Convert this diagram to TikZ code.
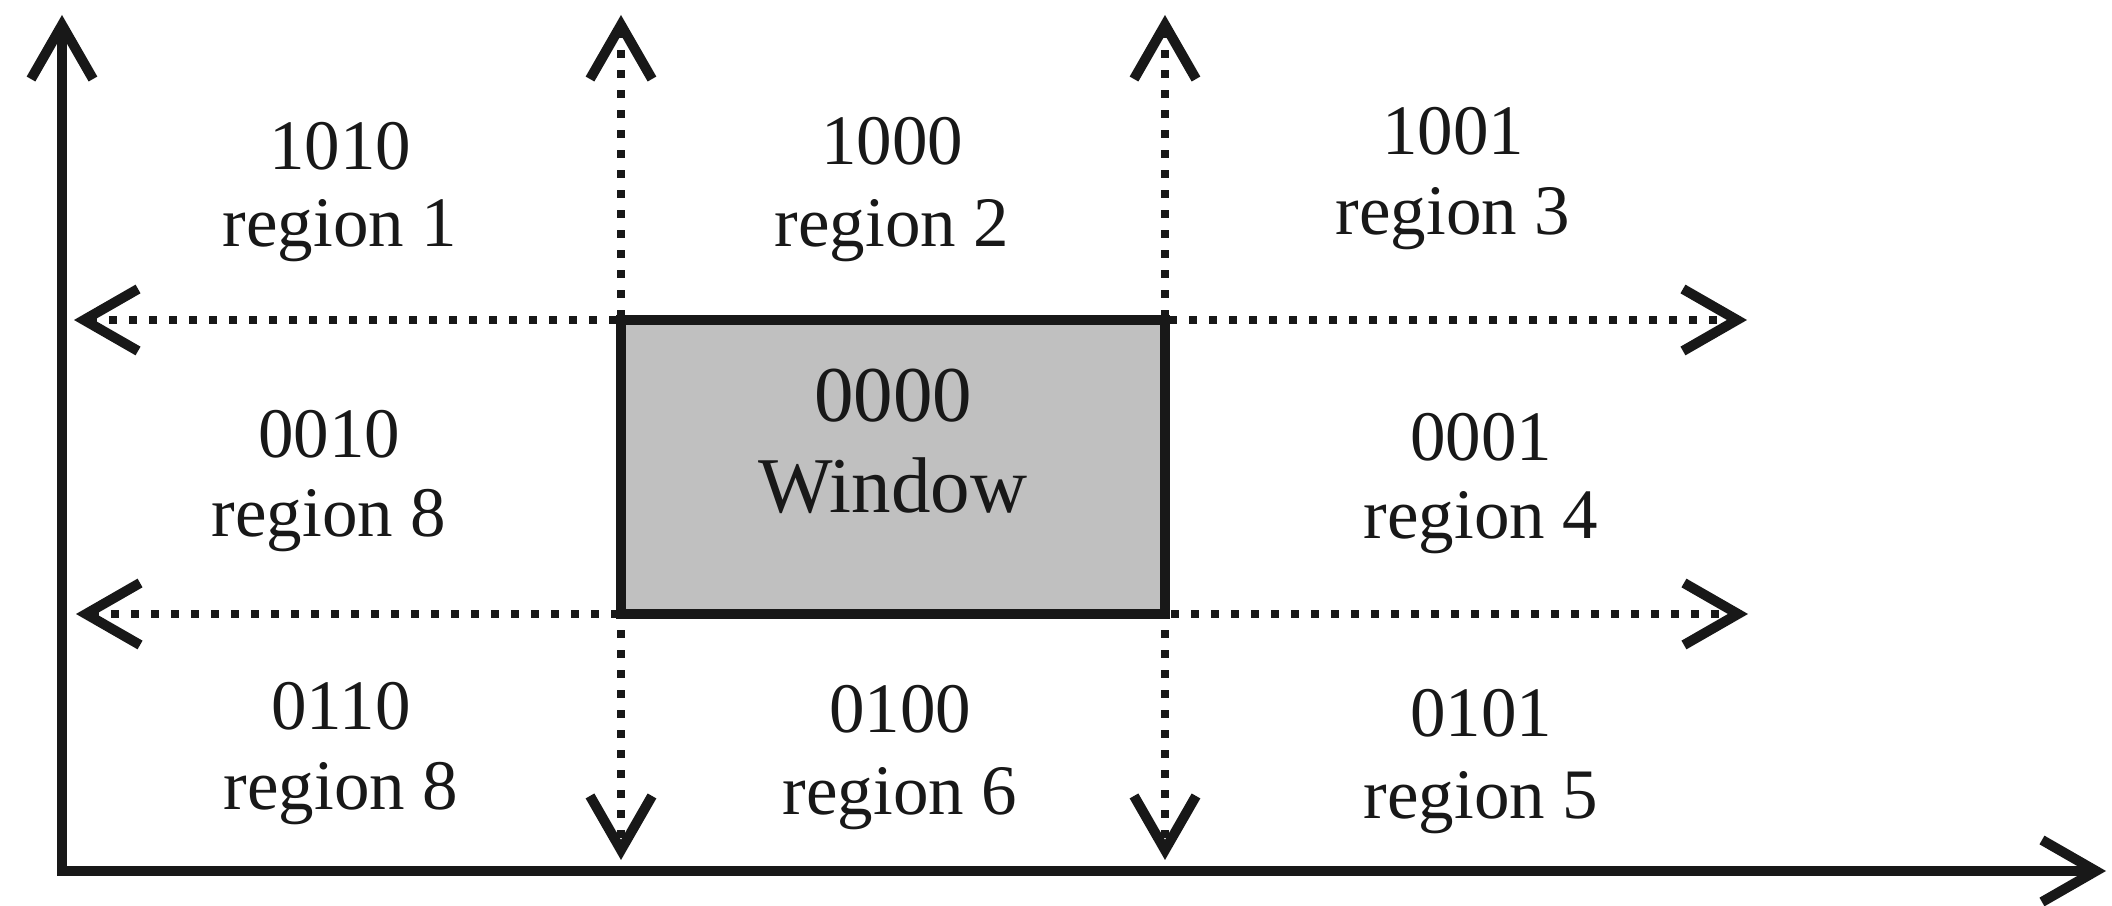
\documentclass[tikz,border=0pt]{standalone}
\usepackage{fontspec}
\setmainfont{Liberation Serif}
\usetikzlibrary{arrows.meta}
\definecolor{ink}{RGB}{24,24,24}
\definecolor{winfill}{RGB}{192,192,192}
\begin{document}
\begin{tikzpicture}[x=0.25pt, y=-0.25pt,
  >={Straight Barb[length=13.5pt,width=15.5pt,line width=2.5pt]},
  axisline/.style={line width=2.4pt, draw=ink},
  guide/.style={line width=2.1pt, dash pattern=on 2.1pt off 2.9pt, draw=ink},
  winbox/.style={line width=2.5pt, draw=ink, fill=winfill},
  code/.style={anchor=base, inner sep=0pt, text=ink, font=\fontsize{17.75pt}{20pt}\selectfont},
  wincode/.style={code, font=\fontsize{19.75pt}{22pt}\selectfont}]
\useasboundingbox (0,0) rectangle (2112,906);

% axes
\coordinate (O)    at (62,871);
\coordinate (ytop) at (62,15);
\coordinate (xend) at (2106,871);

% window corners
\coordinate (wtl) at (621,320);
\coordinate (wbr) at (1165,614);

% ends of the extended window edges
\coordinate (lt) at (621,15);   \coordinate (lb) at (621,860);
\coordinate (rt) at (1165,15);  \coordinate (rb) at (1165,860);
\coordinate (ul) at (74,320);   \coordinate (ur) at (1747,320);
\coordinate (ll) at (76,614);   \coordinate (lr) at (1748,614);

\draw[axisline, <->] (ytop) -- (O) -- (xend);

\draw[guide, <->] (lt) -- (lb);
\draw[guide, <->] (rt) -- (rb);
\draw[guide, <->] (ul) -- (ur);
\draw[guide, <->] (ll) -- (lr);

\draw[winbox] (wtl) rectangle (wbr);

% region codes
\node[code] (c1) at (340,170) {1010};
\node[code] (n1) at (340,247) {region 1};
\node[code] (c2) at (892,165) {1000};
\node[code] (n2) at (892,247) {region 2};
\node[code] (c3) at (1453,155) {1001};
\node[code] (n3) at (1453,235) {region 3};
\node[code] (c8) at (329,458) {0010};
\node[code] (n8) at (329,537) {region 8};
\node[wincode] (cw) at (893,422) {0000};
\node[wincode] (nw) at (893,513) {Window};
\node[code] (c4) at (1481,461) {0001};
\node[code] (n4) at (1481,539) {region 4};
\node[code] (c7) at (341,730) {0110};
\node[code] (n7) at (341,810) {region 8};
\node[code] (c6) at (900,733) {0100};
\node[code] (n6) at (900,815) {region 6};
\node[code] (c5) at (1481,737) {0101};
\node[code] (n5) at (1481,819) {region 5};
\end{tikzpicture}
\end{document}
